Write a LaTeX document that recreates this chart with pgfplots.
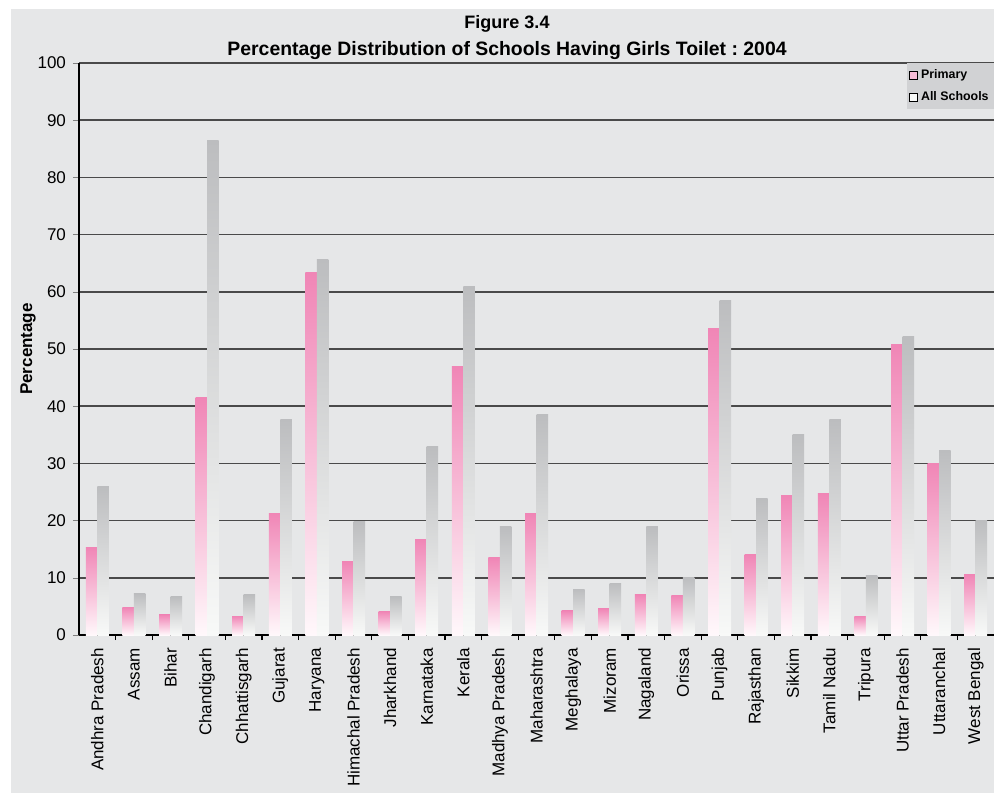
\documentclass[border=0pt]{standalone}
\usepackage{pgfplots}
\usepackage{pgfplotstable}
\pgfplotsset{compat=1.18}
\usepackage{fontspec}
\setmainfont{Liberation Sans}
\frenchspacing

\definecolor{bg}{HTML}{E6E7E8}
\definecolor{legbg}{HTML}{D1D2D4}
\definecolor{pinktop}{HTML}{F086B6}
\definecolor{pinkbot}{HTML}{FFF8FB}
\definecolor{graytop}{HTML}{BCBDBF}
\definecolor{graybot}{HTML}{F8F9F8}
\definecolor{gridc}{HTML}{4A4A4A}

% x = state index, p = Primary, a = All Schools
\pgfplotstableread{
x  p     a
0  15.3  26.0
1  4.8   7.2
2  3.5   6.7
3  41.6  86.5
4  3.3   7.0
5  21.3  37.6
6  63.3  65.6
7  12.8  19.9
8  4.1   6.7
9  16.7  33.0
10 46.9  61.0
11 13.5  18.9
12 21.2  38.5
13 4.2   8.0
14 4.6   9.0
15 7.0   18.9
16 6.9   10.1
17 53.5  58.4
18 14.0  23.8
19 24.4  35.1
20 24.7  37.6
21 3.3   10.4
22 50.7  52.1
23 30.0  32.2
24 10.5  20.1
}\schools

\pgfplotsset{
  pbar/.style={ybar, bar width=5.75pt, bar shift=-2.875pt, draw=none,
    top color=pinktop, bottom color=pinkbot, forget plot},
  abar/.style={ybar, bar width=5.75pt, bar shift=2.875pt, draw=none,
    top color=graytop, bottom color=graybot, forget plot},
}

\begin{document}
\begin{tikzpicture}
% canvas: 994x793 px, 1px = 0.5pt
\fill[white] (0,0) rectangle (497pt,396.5pt);
\fill[bg] (5.5pt,0) rectangle (497pt,392pt);
\path[use as bounding box] (0,0) rectangle (497pt,396.5pt);

\node[font=\bfseries\fontsize{9}{10}\selectfont] at (253.5pt,384.5pt) {Figure 3.4};
\node[font=\bfseries\fontsize{9.7}{11}\selectfont] at (253.5pt,371pt) {Percentage Distribution of Schools Having Girls Toilet : 2004};

\begin{axis}[
  at={(39.5pt,79pt)}, anchor=south west,
  scale only axis, width=457.5pt, height=286pt,
  xmin=-0.5, xmax=24.5, ymin=0, ymax=100,
  axis x line*=bottom, axis y line*=left,
  axis line style={black, line width=0.6pt},
  ytick={0,10,...,100},
  ymajorgrids, grid style={gridc, line width=0.8pt},
  ytick pos=left, tick align=outside, major tick length=3pt,
  xtick={0,...,24},
  xticklabels={Andhra Pradesh,Assam,Bihar,Chandigarh,Chhattisgarh,Gujarat,Haryana,Himachal Pradesh,Jharkhand,Karnataka,Kerala,Madhya Pradesh,Maharashtra,Meghalaya,Mizoram,Nagaland,Orissa,Punjab,Rajasthan,Sikkim,Tamil Nadu,Tripura,Uttar Pradesh,Uttaranchal,West Bengal},
  major x tick style={draw=none},
  minor xtick={0.5,1.5,...,23.5},
  minor x tick style={black, line width=0.6pt},
  minor tick length=2.5pt,
  xticklabel style={rotate=90, anchor=east, font=\fontsize{8.5}{10}\selectfont},
  yticklabel style={font=\fontsize{8.5}{10}\selectfont},
  /pgf/number format/assume math mode=true,
  ylabel={\bfseries Percentage}, ylabel shift=-6pt,
  ylabel style={font=\fontsize{8.5}{10}\selectfont},
  legend style={at={(1,1)}, anchor=north east, fill=legbg, draw=none,
    font=\bfseries\fontsize{6.2}{7}\selectfont, inner xsep=1pt, inner ysep=1pt,
    row sep=1pt, nodes={inner xsep=1.5pt}},
  legend cell align=left,
  legend image code/.code={\draw[#1, draw=black, line width=0.5pt] (0pt,-2pt) rectangle (4pt,2pt);},
  unbounded coords=discard,
]
% one plot per bar, so that each bar gets its own vertical shading
\pgfplotsinvokeforeach{0,...,24}{
  \addplot[pbar, x filter/.expression={x==#1 ? x : nan}] table[x=x, y=p] {\schools};
  \addplot[abar, x filter/.expression={x==#1 ? x : nan}] table[x=x, y=a] {\schools};
}
\addlegendimage{fill=pinktop!55!white}
\addlegendentry{Primary}
\addlegendimage{fill=graybot}
\addlegendentry{All Schools}
\end{axis}
\end{tikzpicture}
\end{document}
